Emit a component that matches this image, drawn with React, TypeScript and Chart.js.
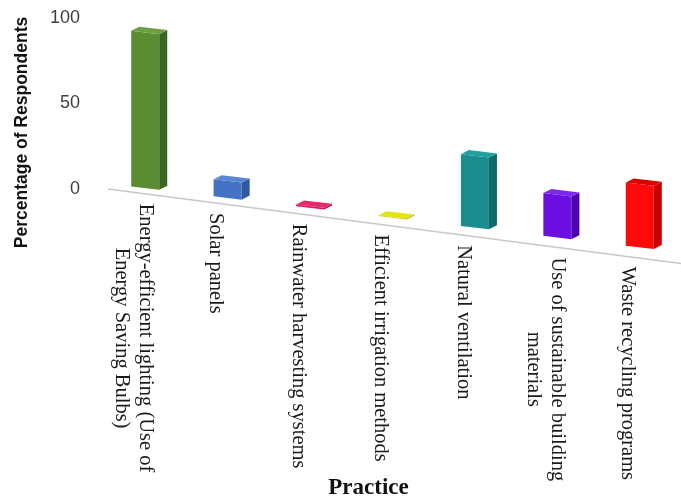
import React, { useEffect, useRef } from 'react';
import { Chart, registerables } from 'chart.js';

Chart.register(...registerables);

// ---- data ----
const categories: string[][] = [
  ['Energy-efficient lighting (Use of', 'Energy Saving Bulbs)'],
  ['Solar panels'],
  ['Rainwater harvesting systems'],
  ['Efficient irrigation methods'],
  ['Natural ventilation'],
  ['Use of sustainable building', 'materials'],
  ['Waste recycling programs'],
];
const values = [91, 10, 1, 0.5, 42, 25, 37];
const yTicks = [0, 50, 100];
const yTitle = 'Percentage of Respondents';
const xTitle = 'Practice';

// ---- styles ----
const frontColors = ['#5a8c32', '#4472c4', '#d81b60', '#cfcf00', '#1a8e8e', '#6b10e0', '#ff0a0a'];
const sideColors = ['#3b6522', '#2f58a0', '#b01048', '#a8a800', '#0f6b6b', '#4e00b0', '#c80000'];
const topColors = ['#6c9e42', '#5a86d2', '#e8286e', '#e4e410', '#22a0a0', '#7d28ea', '#dd0000'];

const BAR_SKEW = 0.12;
const LINE_SKEW = 0.13;
const DEPTH_X = 8;
const DEPTH_Y = -5;

const perspectivePlugin = {
  id: 'perspective3d',
  beforeDatasetsDraw(chart: any) {
    const { ctx, chartArea, scales } = chart;
    const y0 = scales.y.getPixelForValue(0);
    const lx0 = chartArea.left + 4;
    ctx.save();
    ctx.strokeStyle = '#c8c8c8';
    ctx.lineWidth = 1.5;
    ctx.beginPath();
    ctx.moveTo(lx0, y0);
    ctx.lineTo(chartArea.right, y0 + LINE_SKEW * (chartArea.right - lx0));
    ctx.stroke();
    ctx.restore();

    ctx.save();
    const xs = chartArea.left + 49;
    ctx.transform(1, BAR_SKEW, 0, 1, 0, -BAR_SKEW * xs);
  },
  afterDatasetsDraw(chart: any) {
    const { ctx } = chart;
    const meta = chart.getDatasetMeta(0);
    meta.data.forEach((bar: any, i: number) => {
      const { x, y, base, width } = bar.getProps(['x', 'y', 'base', 'width'], true);
      const l = x - width / 2;
      const r = x + width / 2;
      ctx.fillStyle = sideColors[i];
      ctx.beginPath();
      ctx.moveTo(r, y);
      ctx.lineTo(r + DEPTH_X, y + DEPTH_Y);
      ctx.lineTo(r + DEPTH_X, base + DEPTH_Y);
      ctx.lineTo(r, base);
      ctx.closePath();
      ctx.fill();
      ctx.fillStyle = topColors[i];
      ctx.beginPath();
      ctx.moveTo(l, y);
      ctx.lineTo(l + DEPTH_X, y + DEPTH_Y);
      ctx.lineTo(r + DEPTH_X, y + DEPTH_Y);
      ctx.lineTo(r, y);
      ctx.closePath();
      ctx.fill();
    });
    ctx.restore();
  },
  afterDraw(chart: any) {
    const { ctx, chartArea, scales } = chart;
    const y0 = scales.y.getPixelForValue(0);
    const lx0 = chartArea.left + 4;
    const lineY = (x: number) => y0 + LINE_SKEW * (x - lx0);

    // category labels (vertical, reading top to bottom)
    ctx.save();
    ctx.font = '20.5px "Liberation Serif", "Times New Roman", serif';
    ctx.fillStyle = '#1a1a1a';
    ctx.textAlign = 'left';
    ctx.textBaseline = 'middle';
    const lh = 24;
    categories.forEach((lines, i) => {
      const cx = scales.x.getPixelForValue(i) - 12;
      const n = lines.length;
      const widths = lines.map((t) => ctx.measureText(t).width);
      const maxW = Math.max(...widths);
      const firstX = cx + ((n - 1) / 2) * lh;
      const top = lineY(firstX) + 10;
      lines.forEach((t, j) => {
        const colX = cx + ((n - 1) / 2 - j) * lh;
        const startY = top + (maxW - widths[j]) / 2;
        ctx.save();
        ctx.translate(colX, startY);
        ctx.rotate(Math.PI / 2);
        ctx.fillText(t, 0, 0);
        ctx.restore();
      });
    });
    ctx.restore();

    // x title
    ctx.save();
    ctx.font = 'bold 23px "Liberation Serif", "Times New Roman", serif';
    ctx.fillStyle = '#111';
    ctx.textAlign = 'center';
    ctx.textBaseline = 'middle';
    ctx.fillText(xTitle, (chartArea.left + chartArea.right) / 2 - 24, 488);
    ctx.restore();

    // y title
    ctx.save();
    ctx.font = 'bold 17.5px "Liberation Sans", Arial, sans-serif';
    ctx.fillStyle = '#111';
    ctx.textAlign = 'center';
    ctx.textBaseline = 'middle';
    ctx.translate(22, (chartArea.top + y0) / 2 + 29);
    ctx.rotate(-Math.PI / 2);
    ctx.fillText(yTitle, 0, 0);
    ctx.restore();
  },
};

export default function App() {
  const ref = useRef<HTMLCanvasElement | null>(null);
  useEffect(() => {
    if (!ref.current) return;
    const chart = new Chart(ref.current, {
      type: 'bar',
      data: {
        labels: categories.map((c) => c.join(' ')),
        datasets: [
          {
            data: values,
            backgroundColor: frontColors,
            borderWidth: 0,
            barPercentage: 0.34,
            categoryPercentage: 1,
            clip: false as any,
          },
        ],
      },
      options: {
        animation: false,
        responsive: false,
        devicePixelRatio: 1,
        layout: { padding: { top: 18, bottom: 311, left: 0, right: 0 } },
        plugins: { legend: { display: false }, tooltip: { enabled: false } },
        scales: {
          x: { display: false },
          y: {
            min: 0,
            max: 100,
            grid: { display: false, drawTicks: false },
            border: { display: false },
            ticks: {
              color: '#404040',
              padding: 24,
              font: { size: 18, family: '"Liberation Sans", Arial, sans-serif' },
            },
            afterBuildTicks: (scale: any) => {
              scale.ticks = yTicks.map((v) => ({ value: v }));
            },
            afterFit: (scale: any) => {
              scale.width = 104;
              scale.paddingTop = 10;
              scale.paddingBottom = 10;
            },
          },
        },
      },
      plugins: [perspectivePlugin],
    });
    return () => chart.destroy();
  }, []);
  return (
    <div style={{ position: 'absolute', left: 0, top: 0, width: 681, height: 500, background: '#fff' }}>
      <canvas ref={ref} width={681} height={500} style={{ display: 'block' }} />
    </div>
  );
}
